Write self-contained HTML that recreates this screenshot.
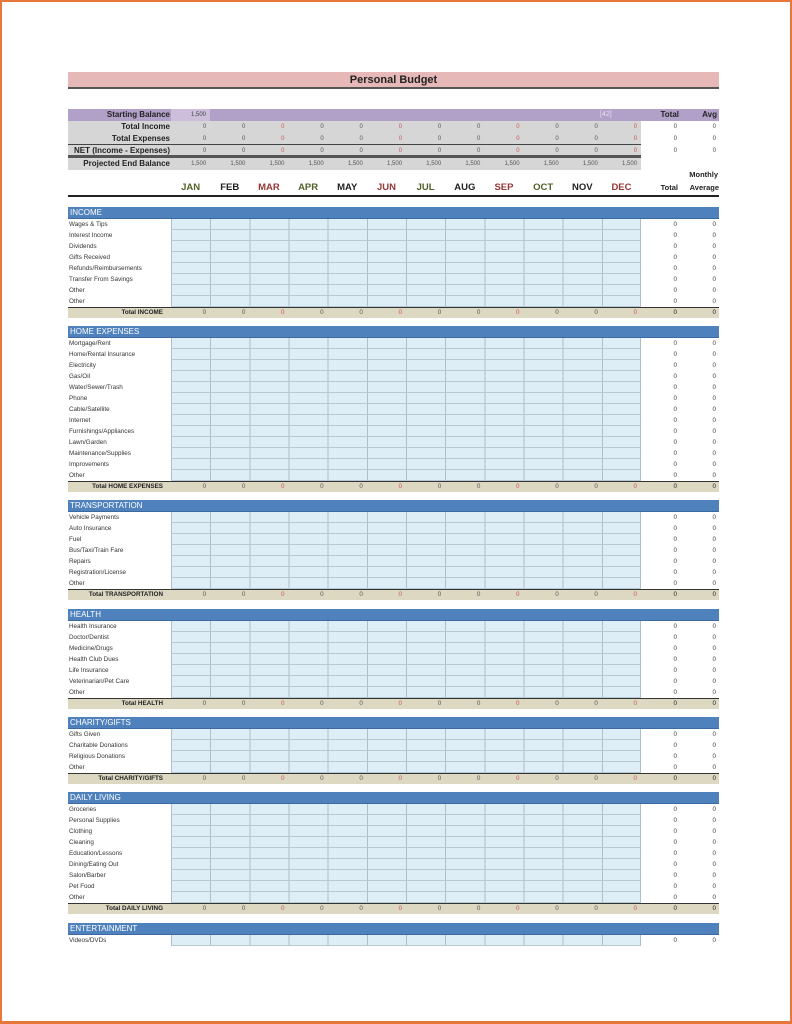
<!DOCTYPE html>
<html><head><meta charset="utf-8"><style>
*{margin:0;padding:0;box-sizing:border-box}
body{width:792px;height:1024px;position:relative;background:#fff;font-family:"Liberation Sans",sans-serif;overflow:hidden}
.frame{position:absolute;left:0;top:0;width:792px;height:1024px;border:2px solid #e8773a;border-bottom-width:3px}
.a{position:absolute}
.sec{position:absolute;left:68px;width:651px}
.h{height:12px;background:#4f81bd;color:#fff;font-size:8px;line-height:12px;padding-left:2px;border-bottom:1px solid #3b6aa0}
.r{height:11px;position:relative;font-size:6.3px;color:#333;line-height:11px}
.r .l{position:absolute;left:1px;top:0}
.r .g{position:absolute;left:103px;width:470px;top:0;height:11px;background:#ddeef7 repeating-linear-gradient(90deg,#aebfc9 0,#aebfc9 1px,transparent 1px,transparent 39.17px);border-bottom:1px solid #b7c9d3;border-right:1px solid #aebfc9}
.r .t,.r .v{position:absolute;top:0;font-size:6.3px;color:#444}
.r .t{left:573px;width:38px;text-align:right;padding-right:2px}
.r .v{left:611px;width:38px;text-align:right;padding-right:1px}
.tot{height:11px;position:relative;background:#ddd8c2;border-top:1.5px solid #333;font-size:6.3px;line-height:10px;color:#222}
.tot .l{position:absolute;left:0;width:95px;text-align:right;font-weight:bold}
.m{position:absolute;left:103px;width:470px;top:0;display:flex}
.m span{flex:1;text-align:right;padding-right:4px;color:#555}
.tot .t,.tot .v{position:absolute;top:0;width:38px;text-align:right}
.tot .t{left:573px;padding-right:2px}.tot .v{left:611px;padding-right:1px}
.top{position:absolute;left:68px;width:573px;height:12px;background:#d6d6d6;font-size:8px;font-weight:bold;line-height:12px;color:#222}
.top .l{position:absolute;left:0;width:102px;text-align:right}
.top .m span{font-size:6px;font-weight:normal;color:#555;padding-right:4px}
.m span.red,.top .m span.red{color:#c55}
.mon{position:absolute;top:182px;left:171px;width:470px;display:flex;font-size:9.5px;font-weight:bold}
.mon span{flex:1;text-align:center}
.gr{color:#4f6228}.dk{color:#222}.rd{color:#953735}
</style></head><body>
<div class="frame"></div>
<div class="a" style="left:68px;top:72px;width:651px;height:17px;background:#e6b8b7;border-bottom:2px solid #555;text-align:center;font-size:11px;font-weight:bold;line-height:16px;color:#222">Personal Budget</div>

<div class="a" style="left:68px;top:109px;width:651px;height:12px;background:#b1a0c7"></div>
<div class="a" style="left:68px;top:109px;width:102px;height:12px;font-size:8px;font-weight:bold;line-height:12px;text-align:right;color:#222">Starting Balance</div>
<div class="a" style="left:171px;top:109px;width:39px;height:12px;background:#cdbfdc;font-size:6px;line-height:12px;text-align:right;padding-right:4px;color:#444">1,500</div>
<div class="a" style="left:600px;top:109px;font-size:7px;line-height:12px;color:#e8e0f0">[42]</div>
<div class="a" style="left:641px;top:109px;width:38px;font-size:8px;font-weight:bold;line-height:12px;text-align:right;color:#222">Total</div>
<div class="a" style="left:679px;top:109px;width:38px;font-size:8px;font-weight:bold;line-height:12px;text-align:right;color:#222">Avg</div>

<div class="top" style="top:121px"><span class="l">Total Income</span><div class="m"><span>0</span><span>0</span><span class="red">0</span><span>0</span><span>0</span><span class="red">0</span><span>0</span><span>0</span><span class="red">0</span><span>0</span><span>0</span><span class="red">0</span></div></div>
<div class="top" style="top:133px;border-bottom:1.5px solid #444"><span class="l">Total Expenses</span><div class="m"><span>0</span><span>0</span><span class="red">0</span><span>0</span><span>0</span><span class="red">0</span><span>0</span><span>0</span><span class="red">0</span><span>0</span><span>0</span><span class="red">0</span></div></div>
<div class="top" style="top:145px;border-bottom:3px solid #555;height:13px"><span class="l">NET (Income - Expenses)</span><div class="m"><span>0</span><span>0</span><span class="red">0</span><span>0</span><span>0</span><span class="red">0</span><span>0</span><span>0</span><span class="red">0</span><span>0</span><span>0</span><span class="red">0</span></div></div>
<div class="top" style="top:158px"><span class="l">Projected End Balance</span><div class="m"><span>1,500</span><span>1,500</span><span>1,500</span><span>1,500</span><span>1,500</span><span>1,500</span><span>1,500</span><span>1,500</span><span>1,500</span><span>1,500</span><span>1,500</span><span>1,500</span></div></div>
<div class="a" style="left:641px;top:121px;width:38px;font-size:6px;line-height:12px;text-align:right;padding-right:2px;color:#444">0<br>0<br>0</div>
<div class="a" style="left:679px;top:121px;width:38px;font-size:6px;line-height:12px;text-align:right;padding-right:1px;color:#444">0<br>0<br>0</div>

<div class="mon"><span class="gr">JAN</span><span class="dk">FEB</span><span class="rd">MAR</span><span class="gr">APR</span><span class="dk">MAY</span><span class="rd">JUN</span><span class="gr">JUL</span><span class="dk">AUG</span><span class="rd">SEP</span><span class="gr">OCT</span><span class="dk">NOV</span><span class="rd">DEC</span></div>
<div class="a" style="left:683px;top:170px;width:35px;text-align:right;font-size:7.5px;font-weight:bold;color:#222">Monthly</div>
<div class="a" style="left:641px;top:183px;width:38px;text-align:right;font-size:7.5px;font-weight:bold;color:#222;padding-right:1px">Total</div>
<div class="a" style="left:679px;top:183px;width:40px;text-align:right;font-size:7.5px;font-weight:bold;color:#222">Average</div>
<div class="a" style="left:68px;top:195px;width:651px;height:2px;background:#222"></div>

<div class="sec" style="top:207px"><div class="h">INCOME</div>
<div class="r"><span class="l">Wages &amp; Tips</span><div class="g"></div><span class="t">0</span><span class="v">0</span></div>
<div class="r"><span class="l">Interest Income</span><div class="g"></div><span class="t">0</span><span class="v">0</span></div>
<div class="r"><span class="l">Dividends</span><div class="g"></div><span class="t">0</span><span class="v">0</span></div>
<div class="r"><span class="l">Gifts Received</span><div class="g"></div><span class="t">0</span><span class="v">0</span></div>
<div class="r"><span class="l">Refunds/Reimbursements</span><div class="g"></div><span class="t">0</span><span class="v">0</span></div>
<div class="r"><span class="l">Transfer From Savings</span><div class="g"></div><span class="t">0</span><span class="v">0</span></div>
<div class="r"><span class="l">Other</span><div class="g"></div><span class="t">0</span><span class="v">0</span></div>
<div class="r"><span class="l">Other</span><div class="g"></div><span class="t">0</span><span class="v">0</span></div>
<div class="tot"><span class="l">Total INCOME</span><div class="m"><span>0</span><span>0</span><span class="red">0</span><span>0</span><span>0</span><span class="red">0</span><span>0</span><span>0</span><span class="red">0</span><span>0</span><span>0</span><span class="red">0</span></div><span class="t">0</span><span class="v">0</span></div>
</div>

<div class="sec" style="top:326px"><div class="h">HOME EXPENSES</div>
<div class="r"><span class="l">Mortgage/Rent</span><div class="g"></div><span class="t">0</span><span class="v">0</span></div>
<div class="r"><span class="l">Home/Rental Insurance</span><div class="g"></div><span class="t">0</span><span class="v">0</span></div>
<div class="r"><span class="l">Electricity</span><div class="g"></div><span class="t">0</span><span class="v">0</span></div>
<div class="r"><span class="l">Gas/Oil</span><div class="g"></div><span class="t">0</span><span class="v">0</span></div>
<div class="r"><span class="l">Water/Sewer/Trash</span><div class="g"></div><span class="t">0</span><span class="v">0</span></div>
<div class="r"><span class="l">Phone</span><div class="g"></div><span class="t">0</span><span class="v">0</span></div>
<div class="r"><span class="l">Cable/Satellite</span><div class="g"></div><span class="t">0</span><span class="v">0</span></div>
<div class="r"><span class="l">Internet</span><div class="g"></div><span class="t">0</span><span class="v">0</span></div>
<div class="r"><span class="l">Furnishings/Appliances</span><div class="g"></div><span class="t">0</span><span class="v">0</span></div>
<div class="r"><span class="l">Lawn/Garden</span><div class="g"></div><span class="t">0</span><span class="v">0</span></div>
<div class="r"><span class="l">Maintenance/Supplies</span><div class="g"></div><span class="t">0</span><span class="v">0</span></div>
<div class="r"><span class="l">Improvements</span><div class="g"></div><span class="t">0</span><span class="v">0</span></div>
<div class="r"><span class="l">Other</span><div class="g"></div><span class="t">0</span><span class="v">0</span></div>
<div class="tot"><span class="l">Total HOME EXPENSES</span><div class="m"><span>0</span><span>0</span><span class="red">0</span><span>0</span><span>0</span><span class="red">0</span><span>0</span><span>0</span><span class="red">0</span><span>0</span><span>0</span><span class="red">0</span></div><span class="t">0</span><span class="v">0</span></div>
</div>

<div class="sec" style="top:500px"><div class="h">TRANSPORTATION</div>
<div class="r"><span class="l">Vehicle Payments</span><div class="g"></div><span class="t">0</span><span class="v">0</span></div>
<div class="r"><span class="l">Auto Insurance</span><div class="g"></div><span class="t">0</span><span class="v">0</span></div>
<div class="r"><span class="l">Fuel</span><div class="g"></div><span class="t">0</span><span class="v">0</span></div>
<div class="r"><span class="l">Bus/Taxi/Train Fare</span><div class="g"></div><span class="t">0</span><span class="v">0</span></div>
<div class="r"><span class="l">Repairs</span><div class="g"></div><span class="t">0</span><span class="v">0</span></div>
<div class="r"><span class="l">Registration/License</span><div class="g"></div><span class="t">0</span><span class="v">0</span></div>
<div class="r"><span class="l">Other</span><div class="g"></div><span class="t">0</span><span class="v">0</span></div>
<div class="tot"><span class="l">Total TRANSPORTATION</span><div class="m"><span>0</span><span>0</span><span class="red">0</span><span>0</span><span>0</span><span class="red">0</span><span>0</span><span>0</span><span class="red">0</span><span>0</span><span>0</span><span class="red">0</span></div><span class="t">0</span><span class="v">0</span></div>
</div>

<div class="sec" style="top:609px"><div class="h">HEALTH</div>
<div class="r"><span class="l">Health Insurance</span><div class="g"></div><span class="t">0</span><span class="v">0</span></div>
<div class="r"><span class="l">Doctor/Dentist</span><div class="g"></div><span class="t">0</span><span class="v">0</span></div>
<div class="r"><span class="l">Medicine/Drugs</span><div class="g"></div><span class="t">0</span><span class="v">0</span></div>
<div class="r"><span class="l">Health Club Dues</span><div class="g"></div><span class="t">0</span><span class="v">0</span></div>
<div class="r"><span class="l">Life Insurance</span><div class="g"></div><span class="t">0</span><span class="v">0</span></div>
<div class="r"><span class="l">Veterinarian/Pet Care</span><div class="g"></div><span class="t">0</span><span class="v">0</span></div>
<div class="r"><span class="l">Other</span><div class="g"></div><span class="t">0</span><span class="v">0</span></div>
<div class="tot"><span class="l">Total HEALTH</span><div class="m"><span>0</span><span>0</span><span class="red">0</span><span>0</span><span>0</span><span class="red">0</span><span>0</span><span>0</span><span class="red">0</span><span>0</span><span>0</span><span class="red">0</span></div><span class="t">0</span><span class="v">0</span></div>
</div>

<div class="sec" style="top:717px"><div class="h">CHARITY/GIFTS</div>
<div class="r"><span class="l">Gifts Given</span><div class="g"></div><span class="t">0</span><span class="v">0</span></div>
<div class="r"><span class="l">Charitable Donations</span><div class="g"></div><span class="t">0</span><span class="v">0</span></div>
<div class="r"><span class="l">Religious Donations</span><div class="g"></div><span class="t">0</span><span class="v">0</span></div>
<div class="r"><span class="l">Other</span><div class="g"></div><span class="t">0</span><span class="v">0</span></div>
<div class="tot"><span class="l">Total CHARITY/GIFTS</span><div class="m"><span>0</span><span>0</span><span class="red">0</span><span>0</span><span>0</span><span class="red">0</span><span>0</span><span>0</span><span class="red">0</span><span>0</span><span>0</span><span class="red">0</span></div><span class="t">0</span><span class="v">0</span></div>
</div>

<div class="sec" style="top:792px"><div class="h">DAILY LIVING</div>
<div class="r"><span class="l">Groceries</span><div class="g"></div><span class="t">0</span><span class="v">0</span></div>
<div class="r"><span class="l">Personal Supplies</span><div class="g"></div><span class="t">0</span><span class="v">0</span></div>
<div class="r"><span class="l">Clothing</span><div class="g"></div><span class="t">0</span><span class="v">0</span></div>
<div class="r"><span class="l">Cleaning</span><div class="g"></div><span class="t">0</span><span class="v">0</span></div>
<div class="r"><span class="l">Education/Lessons</span><div class="g"></div><span class="t">0</span><span class="v">0</span></div>
<div class="r"><span class="l">Dining/Eating Out</span><div class="g"></div><span class="t">0</span><span class="v">0</span></div>
<div class="r"><span class="l">Salon/Barber</span><div class="g"></div><span class="t">0</span><span class="v">0</span></div>
<div class="r"><span class="l">Pet Food</span><div class="g"></div><span class="t">0</span><span class="v">0</span></div>
<div class="r"><span class="l">Other</span><div class="g"></div><span class="t">0</span><span class="v">0</span></div>
<div class="tot"><span class="l">Total DAILY LIVING</span><div class="m"><span>0</span><span>0</span><span class="red">0</span><span>0</span><span>0</span><span class="red">0</span><span>0</span><span>0</span><span class="red">0</span><span>0</span><span>0</span><span class="red">0</span></div><span class="t">0</span><span class="v">0</span></div>
</div>

<div class="sec" style="top:923px"><div class="h">ENTERTAINMENT</div>
<div class="r"><span class="l">Videos/DVDs</span><div class="g"></div><span class="t">0</span><span class="v">0</span></div>
</div>
</body></html>
